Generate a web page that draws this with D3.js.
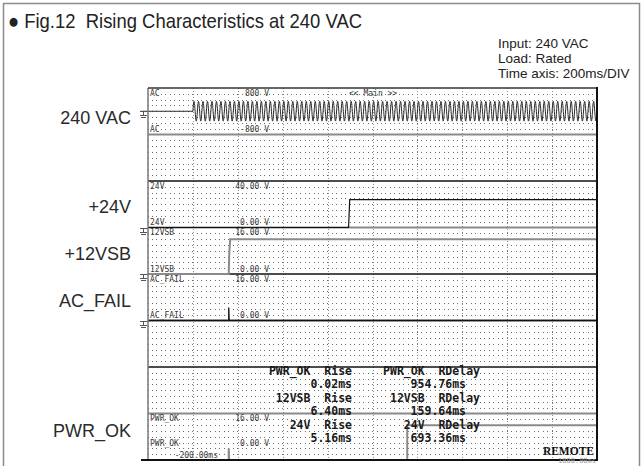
<!DOCTYPE html>
<html>
<head>
<meta charset="utf-8">
<script src="https://cdn.jsdelivr.net/npm/d3@7/dist/d3.min.js"></script>
<style>
  body { margin: 0; background: #fff; }
  svg { display: block; }
  text { white-space: pre; }
</style>
</head>
<body>
<div id="chart"></div>
<script>
const channelNames = ["240 VAC", "+24V", "+12VSB", "AC_FAIL", "PWR_OK"];
const channelTags = ["AC", "24V", "12VSB", "AC_FAIL", "PWR_OK"];
const channelSlots = [0, 2, 3, 4, 7];          // which of the 8 screen strips
const scaleTop = [800, 40, 16, 16, 16];         // volts at strip top
const scaleBottom = [-800, 0, 0, 0, 0];         // volts at strip bottom
const topLabels = ["800 V", "40.00 V", "16.00 V", "16.00 V", "16.00 V"];
const bottomLabels = ["-800 V", "0.00 V", "0.00 V", "0.00 V", "0.00 V"];

const timeDomain = [-200, 1800];                // ms, 200ms/DIV
const timeLabels = ["-200.00ms", "1800.00ms"];

const acVrms = 240;
const acHz = 50;
const acStart = 0;                              // ms, mains switched on at trigger

// [time ms, volts]
const trace24V = [[-200, 0], [693.36, 0], [698.52, 24], [1800, 24]];
const trace12VSB = [[-200, 0], [159.64, 0], [162, 7], [166.04, 12], [1800, 12]];
const traceAcFail = [[-200, 0], [159.6, 0], [159.6, 4.5], [161.5, 0], [1800, 0]];
const tracePwrOk = [[-200, 0], [159.6, 0], [159.6, 4], [161.5, 0], [954.76, 0], [954.78, 12], [1800, 12]];

const measNames = ["PWR_OK", "12VSB", "24V"];
const riseTime = [0.02, 6.40, 5.16];
const riseDelay = [954.76, 159.64, 693.36];

const infoLines = ["Input: 240 VAC", "Load: Rated", "Time axis: 200ms/DIV"];

// ---- layout ----
const W = 643, H = 466;
const svg = d3.select("#chart").append("svg").attr("width", W).attr("height", H);

const x = d3.scaleLinear().domain(timeDomain).range([148, 597]);
const slot = d3.scaleLinear().domain([0, 8]).range([88, 460]);
const yFor = i => d3.scaleLinear()
  .domain([scaleBottom[i], scaleTop[i]])
  .range([slot(channelSlots[i] + 1), slot(channelSlots[i])]);

// outer figure frame
svg.append("rect").attr("x", 3.5).attr("y", 3.5).attr("width", 636).attr("height", 480)
  .attr("fill", "none").attr("stroke", "#8c8c8c").attr("stroke-width", 1.5);

svg.append("text").attr("x", 8).attr("y", 28)
  .attr("font-family", "Liberation Sans, Arial, sans-serif").attr("font-size", 21)
  .attr("textLength", 354).attr("lengthAdjust", "spacingAndGlyphs")
  .attr("fill", "#222").text("● Fig.12  Rising Characteristics at 240 VAC");

svg.selectAll(".info").data(infoLines).join("text")
  .attr("x", 498).attr("y", (d, i) => 47.5 + i * 15)
  .attr("font-family", "Liberation Sans, Arial, sans-serif").attr("font-size", 13.5)
  .attr("fill", "#222").text(d => d);

// ---- dotted grid ----
const grid = svg.append("g").attr("shape-rendering", "crispEdges");
const rows = d3.range(0, 64).filter(k => k % 8 !== 0).map(k => 88 + k * 372 / 64);
grid.selectAll(".row").data(rows).join("line")
  .attr("x1", x.range()[0]).attr("x2", x.range()[1])
  .attr("y1", d => Math.round(d) + 0.5).attr("y2", d => Math.round(d) + 0.5)
  .attr("stroke", "#6e6e6e").attr("stroke-width", 1)
  .attr("stroke-dasharray", "1 3.49").attr("stroke-dashoffset", -4);

const divs = d3.range(timeDomain[0] + 200, timeDomain[1], 200);
grid.selectAll(".col").data(divs).join("line")
  .attr("x1", d => Math.round(x(d)) + 0.5).attr("x2", d => Math.round(x(d)) + 0.5)
  .attr("y1", 88).attr("y2", 460)
  .attr("stroke", "#8a8a8a").attr("stroke-width", 1)
  .attr("stroke-dasharray", "1 2");

// strip separators
const sepColor = ["#8a8a8a", "#111", "#8a8a8a", "#111", "#111", "#111", "#8a8a8a"];
svg.selectAll(".sep").data(d3.range(1, 8)).join("line")
  .attr("x1", x.range()[0]).attr("x2", x.range()[1])
  .attr("y1", d => slot(d)).attr("y2", d => slot(d))
  .attr("stroke", (d, i) => sepColor[i])
  .attr("stroke-width", (d, i) => sepColor[i] === "#111" ? 1.3 : 2);

// ---- traces ----
const line = (i) => d3.line().x(d => x(d[0])).y(d => yFor(i)(d[1]));
const traceData = [null, trace24V, trace12VSB, traceAcFail, tracePwrOk];
const traceStyle = [null, ["#111", 1.2], ["#8a8a8a", 2], ["#111", 1.3], ["#8a8a8a", 2]];

traceData.forEach((t, i) => {
  if (!t) return;
  svg.append("path").attr("d", line(i)(t)).attr("fill", "none")
    .attr("stroke", traceStyle[i][0]).attr("stroke-width", traceStyle[i][1]);
});

// mains: sampled sine at acVrms / acHz
const acPeak = acVrms * Math.SQRT2;
const acPts = [[timeDomain[0], 0], [acStart, 0]]
  .concat(d3.range(acStart, timeDomain[1] + 0.01, 1).map(t =>
    [t, acPeak * Math.sin(2 * Math.PI * acHz * (t - acStart) / 1000)]));
svg.append("path").attr("d", line(0)(acPts)).attr("fill", "none")
  .attr("stroke", "#2a2a2a").attr("stroke-width", 1);

// lead lines into the ground markers
[0, 4].forEach(i => {
  const y0 = yFor(i)(0);
  svg.append("line").attr("x1", 141).attr("x2", 148).attr("y1", y0).attr("y2", y0)
    .attr("stroke", i === 0 ? "#2a2a2a" : "#111").attr("stroke-width", i === 0 ? 1 : 2);
});

// ground symbols
[0, 1, 2, 3].forEach(i => {
  const y0 = Math.round(yFor(i)(0));
  const g = svg.append("g").attr("stroke", "#555").attr("stroke-width", 1)
    .attr("shape-rendering", "crispEdges");
  g.append("line").attr("x1", 140).attr("x2", 148).attr("y1", y0 + 0.5).attr("y2", y0 + 0.5);
  g.append("line").attr("x1", 143.5).attr("x2", 143.5).attr("y1", y0).attr("y2", y0 + 4);
  g.append("line").attr("x1", 140).attr("x2", 147).attr("y1", y0 + 4.5).attr("y2", y0 + 4.5);
  g.append("line").attr("x1", 141).attr("x2", 146).attr("y1", y0 + 6.5).attr("y2", y0 + 6.5);
});

// scope frame
const fr = svg.append("g").attr("fill", "none");
fr.append("line").attr("x1", 148).attr("x2", 148).attr("y1", 88).attr("y2", 461)
  .attr("stroke", "#777").attr("stroke-width", 1.5);
fr.append("line").attr("x1", 148).attr("x2", 598).attr("y1", 88).attr("y2", 88)
  .attr("stroke", "#333").attr("stroke-width", 1.5);
fr.append("line").attr("x1", 597).attr("x2", 597).attr("y1", 87).attr("y2", 461)
  .attr("stroke", "#111").attr("stroke-width", 2);
fr.append("line").attr("x1", 141).attr("x2", 598).attr("y1", 460).attr("y2", 460)
  .attr("stroke", "#111").attr("stroke-width", 2);

// ---- small scope labels ----
const small = svg.append("g").attr("font-family", "DejaVu Sans Mono, monospace")
  .attr("font-size", 8).attr("fill", "#3a3a3a");
channelTags.forEach((tag, i) => {
  const top = slot(channelSlots[i]), bot = slot(channelSlots[i] + 1);
  const botY = i === 4 ? bot - 14 : bot - 2.5;
  small.append("text").attr("x", 150).attr("y", top + 7.5).text(tag);
  small.append("text").attr("x", 150).attr("y", botY).text(tag);
  small.append("text").attr("x", 269).attr("y", top + 7.5).attr("text-anchor", "end").text(topLabels[i]);
  small.append("text").attr("x", 269).attr("y", botY).attr("text-anchor", "end").text(bottomLabels[i]);
});
small.append("text").attr("x", 349).attr("y", 95.5).text("<< Main >>");
small.append("text").attr("x", 218).attr("y", 458).attr("text-anchor", "end").text(timeLabels[0]);
small.append("text").attr("x", 596).attr("y", 463).attr("text-anchor", "end")
  .attr("font-size", 7).attr("fill", "#999").text(timeLabels[1]);

svg.append("text").attr("x", 594).attr("y", 455).attr("text-anchor", "end")
  .attr("font-family", "Liberation Serif, serif").attr("font-weight", "bold")
  .attr("font-size", 11.5).attr("fill", "#111").text("REMOTE");

// ---- measurement readout ----
const meas = svg.append("g").attr("font-family", "DejaVu Sans Mono, monospace")
  .attr("font-weight", "bold").attr("font-size", 11.5).attr("fill", "#1a1a1a")
  .attr("text-anchor", "end");
measNames.forEach((n, k) => {
  const y1 = 374.5 + k * 27, y2 = y1 + 13.5;
  meas.append("text").attr("x", 352).attr("y", y1).text(n + "  Rise");
  meas.append("text").attr("x", 352).attr("y", y2).text(riseTime[k].toFixed(2) + "ms");
  meas.append("text").attr("x", 480).attr("y", y1).text(n + "  RDelay");
  meas.append("text").attr("x", 466).attr("y", y2).text(riseDelay[k].toFixed(2) + "ms");
});

// ---- channel names on the left ----
const nameY = [123.5, 212.5, 259.5, 306.5, 436.5];
svg.selectAll(".cname").data(channelNames).join("text")
  .attr("x", 131).attr("y", (d, i) => nameY[i]).attr("text-anchor", "end")
  .attr("font-family", "Liberation Sans, Arial, sans-serif").attr("font-size", 18)
  .attr("fill", "#2a2a2a").text(d => d);
</script>
</body>
</html>
